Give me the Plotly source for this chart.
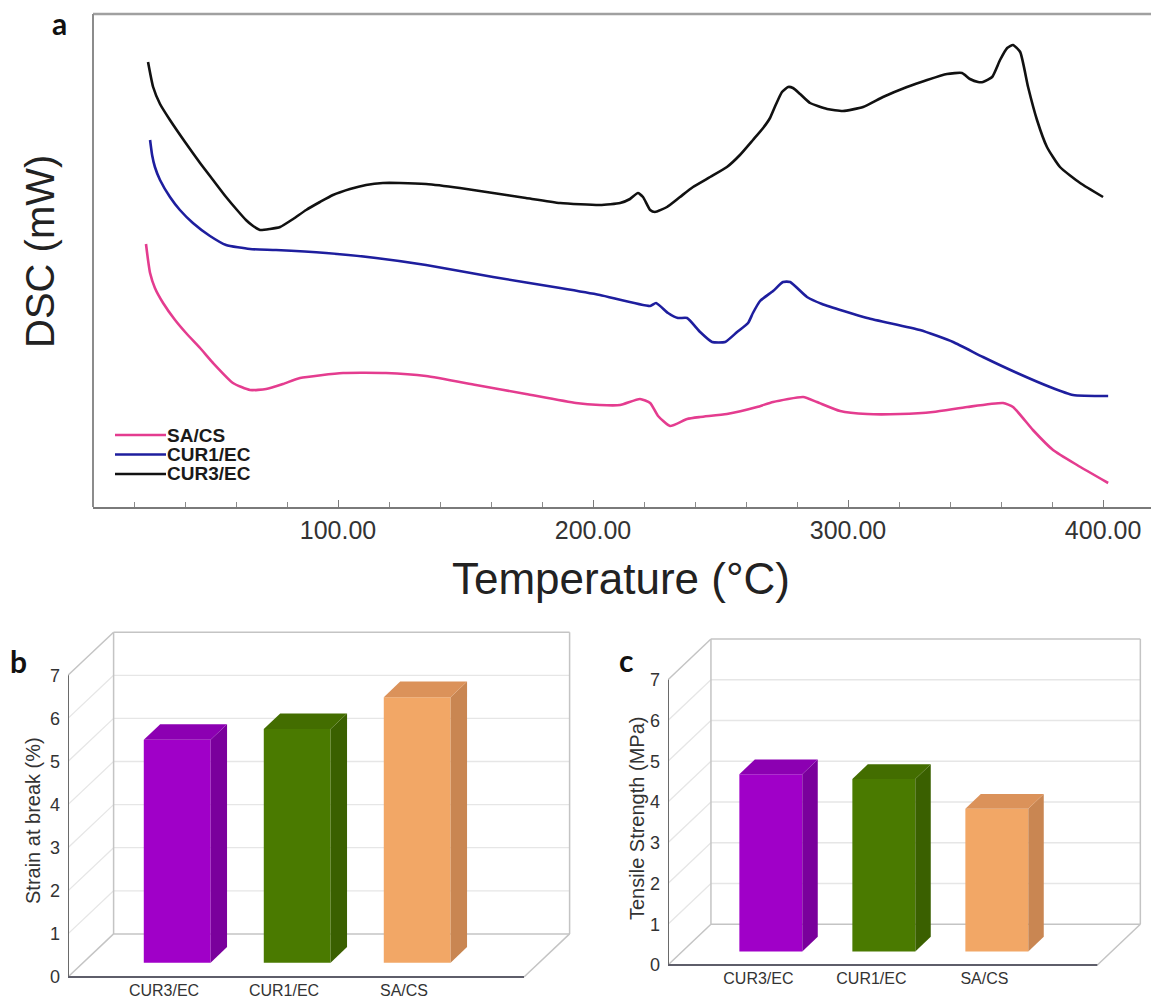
import plotly.graph_objects as go

W, H = 1151, 1001

# ---------------- DATA ----------------
# Panel a: DSC thermograms (temperature in °C, DSC signal in arbitrary mW units, offset curves)
T_SACS = [24.7, 25.5, 26.3, 28.2, 31.4, 36.1, 40.4, 45.9, 51.0, 58.8,
          65.5, 71.8, 78.4, 85.1, 102.0, 118.8, 134.5, 154.1, 173.7, 193.3,
          202.7, 210.6, 218.4, 222.4, 225.5, 230.2, 236.9, 242.0, 252.5, 264.3,
          270.6, 282.4, 287.8, 296.9, 307.5, 320.4, 333.3, 346.7, 360.8, 364.7,
          372.5, 380.4, 389.8, 402.0]
DSC_SACS = [26.3, 24.7, 23.4, 21.9, 20.4, 18.7, 17.4, 15.9, 14.4, 12.4,
            11.7, 11.8, 12.3, 12.9, 13.4, 13.4, 13.1, 12.2, 11.3, 10.4,
            10.2, 10.2, 10.8, 10.4, 9.1, 8.1, 8.8, 9.0, 9.3, 10.0,
            10.5, 11.0, 10.5, 9.6, 9.3, 9.3, 9.5, 10.0, 10.4, 10.0,
            7.7, 5.7, 4.2, 2.4]

T_CUR1 = [26.3, 27.1, 28.2, 30.2, 34.1, 38.0, 43.1, 49.8, 56.1, 65.5,
          75.7, 95.3, 114.9, 134.5, 160.8, 187.1, 202.7, 222.4, 224.7, 229.4,
          233.3, 236.9, 242.0, 246.7, 251.8, 256.5, 260.8, 262.7, 265.5, 270.6,
          274.5, 277.3, 283.9, 289.8, 307.5, 328.2, 341.2, 352.9, 366.3, 379.2,
          388.2, 402.0]
DSC_CUR1 = [36.7, 35.2, 34.0, 32.7, 31.0, 29.7, 28.4, 27.1, 26.2, 25.8,
            25.7, 25.4, 24.9, 24.2, 23.0, 21.9, 21.2, 20.1, 20.4, 19.4,
            18.9, 18.9, 17.5, 16.5, 16.5, 17.5, 18.4, 19.4, 20.6, 21.6,
            22.5, 22.5, 21.0, 20.3, 18.9, 17.7, 16.5, 15.0, 13.4, 12.0,
            11.2, 11.1]

T_CUR3 = [25.5, 27.5, 30.2, 34.1, 40.0, 45.9, 51.0, 56.1, 60.4, 63.9,
          66.7, 69.4, 73.3, 77.3, 82.4, 87.5, 92.9, 98.0, 104.7, 111.0,
          117.6, 124.3, 134.5, 147.8, 160.8, 173.7, 187.1, 202.7, 210.6, 214.5,
          217.6, 219.6, 222.4, 224.3, 229.0, 234.1, 239.2, 245.9, 252.5, 257.6,
          262.7, 266.7, 269.4, 271.8, 274.1, 276.5, 278.4, 281.2, 285.1, 291.8,
          298.0, 305.9, 313.7, 323.1, 331.0, 338.8, 344.7, 347.8, 351.0, 352.9,
          356.5, 359.6, 362.4, 364.7, 367.5, 370.6, 374.1, 378.0, 383.1, 391.0,
          400.0]
DSC_CUR3 = [44.5, 42.0, 40.3, 38.7, 36.5, 34.4, 32.7, 31.0, 29.7, 28.7,
            28.1, 27.7, 27.8, 28.0, 28.8, 29.7, 30.5, 31.2, 31.8, 32.2,
            32.4, 32.4, 32.3, 31.9, 31.4, 30.9, 30.4, 30.2, 30.4, 30.8,
            31.4, 31.0, 29.7, 29.5, 30.0, 31.0, 32.0, 33.0, 34.0, 35.2,
            36.7, 37.9, 38.9, 40.3, 41.5, 42.0, 41.9, 41.3, 40.4, 39.8,
            39.6, 40.0, 41.0, 42.0, 42.7, 43.3, 43.4, 42.8, 42.5, 42.5,
            43.0, 44.7, 45.9, 46.2, 45.5, 42.0, 38.7, 36.0, 34.0, 32.4,
            31.0]

SERIES_NAMES = ["SA/CS", "CUR1/EC", "CUR3/EC"]
SERIES_COLORS = ["#E43C8F", "#1E1E9E", "#111111"]

# Panels b, c: mechanical properties
CATEGORIES = ["CUR3/EC", "CUR1/EC", "SA/CS"]
STRAIN = [5.17, 5.42, 6.16]       # Strain at break (%)
TENSILE = [4.35, 4.23, 3.50]      # Tensile Strength (MPa)
Y_TICKS = [0, 1, 2, 3, 4, 5, 6, 7]

BAR_FRONT = ["#A000C8", "#4A7A00", "#F2A766"]
BAR_SIDE = ["#7A009C", "#3A6000", "#C98652"]
BAR_TOP = ["#8C00B2", "#436D00", "#DB925A"]

FONT = "Liberation Sans, Arial, sans-serif"
LABEL_FONT = "Lato, Liberation Sans, sans-serif"

fig = go.Figure()


def pxx(x):
    return x / W


def pxy(y):
    return 1 - y / H


def note(text, x, y, size, color, family=FONT, angle=0, xanchor="center"):
    return dict(text=text, x=pxx(x), y=pxy(y), xref="paper", yref="paper",
                xanchor=xanchor, yanchor="middle", showarrow=False, textangle=angle,
                font=dict(family=family, size=size, color=color))


# ---------------- PANEL A ----------------
A_LEFT, A_RIGHT, A_TOP, A_BOTTOM = 93, 1151, 14, 507
A_XR = [3.92, 418.8]
A_YR = [0, 49.3]

for name, col, T, D in zip(SERIES_NAMES, SERIES_COLORS,
                           [T_SACS, T_CUR1, T_CUR3], [DSC_SACS, DSC_CUR1, DSC_CUR3]):
    fig.add_trace(go.Scatter(x=T, y=D, mode="lines", name=name,
                             line=dict(color=col, width=2.6, shape="spline", smoothing=0.5),
                             xaxis="x", yaxis="y", showlegend=False))

shapes = []
annotations = []

# panel a frame (top + left borders)
shapes.append(dict(type="line", xref="x domain", yref="y domain", x0=0, x1=1, y0=1, y1=1,
                   line=dict(color="#A0A0A0", width=2.5)))
shapes.append(dict(type="line", xref="x domain", yref="y domain", x0=0, x1=0, y0=0, y1=1,
                   line=dict(color="#8C8C8C", width=2)))

# custom legend for panel a
LEG_Y = [435, 454.5, 474]
for name, col, ly in zip(SERIES_NAMES, SERIES_COLORS, LEG_Y):
    shapes.append(dict(type="line", xref="paper", yref="paper",
                       x0=pxx(115), x1=pxx(166), y0=pxy(ly), y1=pxy(ly),
                       line=dict(color=col, width=2.6)))
    annotations.append(note("<b>%s</b>" % name, 165, ly, 19, "#1A1A1A", xanchor="left"))

annotations += [
    note("<b>a</b>", 59, 23, 30, "#111", family=LABEL_FONT),
    note("DSC (mW)", 40, 252, 40, "#222", angle=-90),
    note("Temperature (°C)", 621, 578, 44, "#222"),
]

# ---------------- PANELS B & C (pseudo-3D columns) ----------------
DEPTH = (0.38, 1.0)          # oblique depth vector in (category, value) units
X_LEFT, X_RIGHT = -0.8, 3.0  # front floor extent
XR = [-0.8, 3.45]
YR = [-0.05, 8.12]
BW = 0.557
SHIFT = 0.11
Y0 = 1 / 3
TH = 0.36

panels = [
    dict(xa="x2", ya="y2", ox=68, oy=977, sx=120, sy=43.1, vals=STRAIN,
         title="Strain at break (%)", tpos=(33, 821), label="b", lpos=(18, 661)),
    dict(xa="x3", ya="y3", ox=668, oy=965, sx=113, sy=40.75, vals=TENSILE,
         title="Tensile Strength (MPa)", tpos=(637, 818), label="c", lpos=(626, 660)),
]

axes = {}
for p in panels:
    ox, oy, sx, sy = p["ox"], p["oy"], p["sx"], p["sy"]
    xd = [pxx(ox + (XR[0] - X_LEFT) * sx), pxx(ox + (XR[1] - X_LEFT) * sx)]
    yd = [pxy(oy - YR[0] * sy), pxy(oy - YR[1] * sy)]
    xn = "xaxis" + p["xa"][1:]
    yn = "yaxis" + p["ya"][1:]
    axes[xn] = dict(domain=xd, range=XR, anchor=p["ya"], tickmode="array",
                    tickvals=list(range(len(CATEGORIES))), ticktext=CATEGORIES,
                    showgrid=False, zeroline=False, showline=False, ticks="",
                    tickfont=dict(family=FONT, size=16, color="#333"))
    axes[yn] = dict(domain=yd, range=YR, anchor=p["xa"], tickmode="array",
                    tickvals=Y_TICKS, showgrid=False, zeroline=False, showline=False,
                    ticks="", ticklabelstandoff=7,
                    tickfont=dict(family=FONT, size=18, color="#333"))

    xa, ya = p["xa"], p["ya"]
    dx, dy = DEPTH
    bx0, bx1 = X_LEFT + dx, X_RIGHT + dx
    wall = "#C4C4C4"
    grid = "#E6E6E6"

    def ln(x0, y0, x1, y1, color, width):
        shapes.append(dict(type="line", xref=xa, yref=ya, x0=x0, y0=y0, x1=x1, y1=y1,
                           layer="below", line=dict(color=color, width=width)))

    # back wall gridlines and side-wall diagonals
    for v in Y_TICKS[1:-1]:
        ln(bx0, v + dy, bx1, v + dy, grid, 1.3)
        ln(X_LEFT, v, bx0, v + dy, grid, 1.3)
    # wall outlines
    ln(bx0, dy, bx1, dy, wall, 1.5)
    ln(bx0, dy, bx0, 7 + dy, wall, 1.5)
    ln(bx1, dy, bx1, 7 + dy, wall, 1.5)
    ln(bx0, 7 + dy, bx1, 7 + dy, wall, 1.5)
    ln(X_LEFT, 7, bx0, 7 + dy, wall, 1.5)
    ln(X_LEFT, 0, bx0, dy, wall, 1.5)
    ln(X_RIGHT, 0, bx1, dy, wall, 1.5)
    # front axes
    ln(X_LEFT, 0, X_LEFT, 7, "#6A6A6A", 2)
    ln(X_LEFT, 0, X_RIGHT, 0, "#5E5E6A", 2)

    # bars
    for i, v in enumerate(p["vals"]):
        xc = i + SHIFT
        x0, x1 = xc - BW / 2, xc + BW / 2
        y1 = Y0 + v
        tdx, tdy = dx * TH, dy * TH
        fig.add_trace(go.Bar(x=[xc], y=[v], base=[Y0], width=BW, xaxis=xa, yaxis=ya,
                             marker=dict(color=BAR_FRONT[i], line=dict(width=0)),
                             name=CATEGORIES[i], showlegend=False))
        fig.add_trace(go.Scatter(x=[x1, x1 + tdx, x1 + tdx, x1, x1],
                                 y=[Y0, Y0 + tdy, y1 + tdy, y1, Y0],
                                 fill="toself", fillcolor=BAR_SIDE[i], mode="lines",
                                 line=dict(width=0, color=BAR_SIDE[i]),
                                 xaxis=xa, yaxis=ya, showlegend=False, hoverinfo="skip"))
        fig.add_trace(go.Scatter(x=[x0, x1, x1 + tdx, x0 + tdx, x0],
                                 y=[y1, y1, y1 + tdy, y1 + tdy, y1],
                                 fill="toself", fillcolor=BAR_TOP[i], mode="lines",
                                 line=dict(width=0, color=BAR_TOP[i]),
                                 xaxis=xa, yaxis=ya, showlegend=False, hoverinfo="skip"))

    annotations.append(note(p["title"], p["tpos"][0], p["tpos"][1], 20, "#333", angle=-90))
    annotations.append(note("<b>%s</b>" % p["label"], p["lpos"][0], p["lpos"][1], 30, "#111",
                            family=LABEL_FONT))

fig.update_layout(
    width=W, height=H, margin=dict(l=0, r=0, t=0, b=0, pad=0),
    paper_bgcolor="white", plot_bgcolor="white", template="none",
    barmode="overlay", showlegend=False,
    xaxis=dict(domain=[pxx(A_LEFT), pxx(A_RIGHT)], range=A_XR, anchor="y",
               showgrid=False, zeroline=False, showline=True, linecolor="#7A7A7A", linewidth=1.6,
               ticks="inside", ticklen=7, tickwidth=1.2, tickcolor="#7A7A7A",
               tick0=0, dtick=100, tickformat=".2f",
               minor=dict(ticks="inside", ticklen=5, tickwidth=1, tickcolor="#8A8A8A",
                          tick0=0, dtick=20, showgrid=False),
               tickfont=dict(family=FONT, size=25, color="#333")),
    yaxis=dict(domain=[pxy(A_BOTTOM), pxy(A_TOP)], range=A_YR, anchor="x",
               showgrid=False, zeroline=False, showline=False, showticklabels=False,
               ticks=""),
    shapes=shapes, annotations=annotations,
    **axes,
)

fig.write_html("out.html", config={"displayModeBar": False},
               post_script="document.body.style.margin='0';document.body.style.overflow='hidden';")
